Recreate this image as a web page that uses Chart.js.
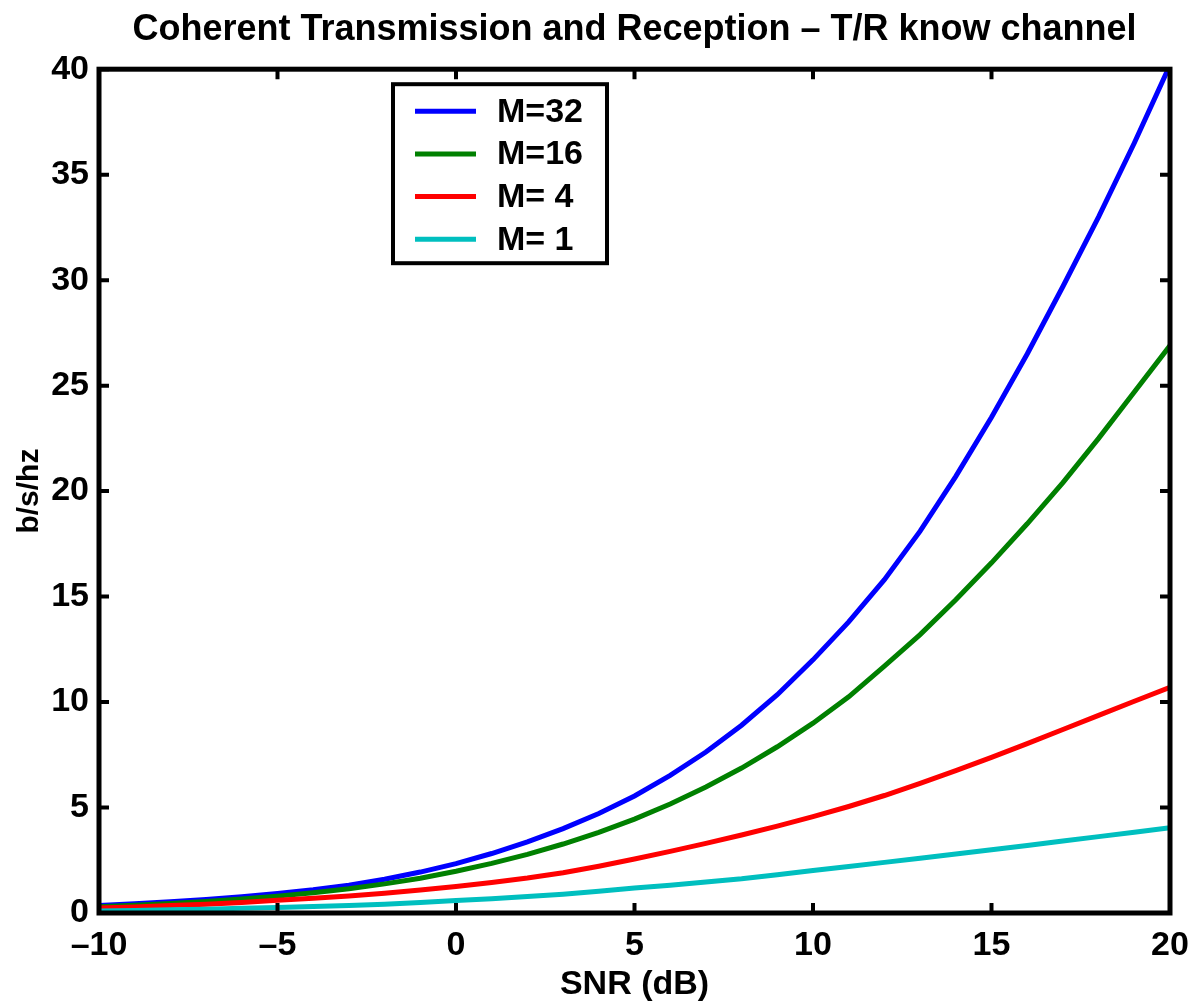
<!DOCTYPE html>
<html>
<head>
<meta charset="utf-8">
<script src="https://cdn.jsdelivr.net/npm/chart.js@4.4.1/dist/chart.umd.min.js"></script>
<style>
  html, body { margin: 0; padding: 0; background: #fff; }
  #wrap { width: 1195px; height: 1002px; position: relative; }
</style>
</head>
<body>
<div id="wrap"><canvas id="capacityChart"></canvas></div>
<script>
// SNR grid in dB
const snrDb = [-10, -9, -8, -7, -6, -5, -4, -3, -2, -1, 0, 1, 2, 3, 4, 5, 6, 7, 8, 9, 10, 11, 12, 13, 14, 15, 16, 17, 18, 19, 20];

// capacity curves (b/s/hz)
const capM32 = [0.36, 0.44, 0.53, 0.64, 0.77, 0.93, 1.10, 1.32, 1.60, 1.94, 2.34, 2.82, 3.37, 4.00, 4.72, 5.55, 6.52, 7.63, 8.90, 10.35, 12.0, 13.8, 15.8, 18.1, 20.7, 23.5, 26.5, 29.7, 33.0, 36.5, 40.2];
const capM16 = [0.30, 0.37, 0.45, 0.55, 0.66, 0.80, 0.96, 1.15, 1.38, 1.65, 1.98, 2.35, 2.78, 3.27, 3.82, 4.45, 5.17, 5.97, 6.87, 7.88, 9.0, 10.25, 11.7, 13.2, 14.85, 16.6, 18.45, 20.4, 22.5, 24.7, 26.9];
const capM4 = [0.24, 0.29, 0.35, 0.42, 0.50, 0.60, 0.70, 0.81, 0.94, 1.09, 1.26, 1.45, 1.66, 1.91, 2.22, 2.56, 2.92, 3.30, 3.70, 4.12, 4.57, 5.05, 5.57, 6.15, 6.75, 7.38, 8.03, 8.70, 9.37, 10.04, 10.7];
const capM1 = [0.10, 0.12, 0.15, 0.18, 0.22, 0.26, 0.31, 0.36, 0.42, 0.50, 0.59, 0.68, 0.78, 0.89, 1.03, 1.18, 1.32, 1.47, 1.62, 1.81, 2.01, 2.20, 2.40, 2.60, 2.80, 3.00, 3.20, 3.41, 3.62, 3.83, 4.04];

const seriesLabels = ["M=32", "M=16", "M= 4", "M= 1"];
const seriesColors = ["#0000ff", "#008000", "#ff0000", "#00bfbf"];
const xTicks = [-10, -5, 0, 5, 10, 15, 20];
const yTicks = [0, 5, 10, 15, 20, 25, 30, 35, 40];

const FONT = "'Liberation Sans', Arial, Helvetica, sans-serif";

function toPoints(ys) {
    return snrDb.map((x, i) => ({ x: x, y: ys[i] }));
}

// MATLAB style box + inward ticks + boxed legend
const matlabFrame = {
    id: "matlabFrame",
    afterDatasetsDraw(chart) {
        const { ctx, chartArea: a, scales } = chart;
        ctx.save();
        ctx.strokeStyle = "#000";
        ctx.lineCap = "butt";

        // inward ticks
        ctx.lineWidth = 4;
        const tl = 10;
        xTicks.forEach(v => {
            const px = scales.x.getPixelForValue(v);
            ctx.beginPath();
            ctx.moveTo(px, a.bottom); ctx.lineTo(px, a.bottom - tl);
            ctx.moveTo(px, a.top); ctx.lineTo(px, a.top + tl);
            ctx.stroke();
        });
        yTicks.forEach(v => {
            const py = scales.y.getPixelForValue(v);
            ctx.beginPath();
            ctx.moveTo(a.left, py); ctx.lineTo(a.left + tl, py);
            ctx.moveTo(a.right, py); ctx.lineTo(a.right - tl, py);
            ctx.stroke();
        });

        // axes box
        ctx.lineWidth = 5;
        ctx.strokeRect(a.left, a.top, a.right - a.left, a.bottom - a.top);

        // legend box
        const lx = a.left + 294, ly = a.top + 15, lw = 214, lh = 179;
        ctx.fillStyle = "#fff";
        ctx.fillRect(lx, ly, lw, lh);
        ctx.lineWidth = 4;
        ctx.strokeRect(lx, ly, lw, lh);
        ctx.font = "bold 34px " + FONT;
        ctx.textAlign = "left";
        ctx.textBaseline = "middle";
        chart.data.datasets.forEach((ds, i) => {
            const ry = ly + 27 + i * 42.7;
            ctx.strokeStyle = ds.borderColor;
            ctx.lineWidth = 5;
            ctx.beginPath();
            ctx.moveTo(lx + 22, ry); ctx.lineTo(lx + 83, ry);
            ctx.stroke();
            ctx.fillStyle = "#000";
            ctx.fillText(ds.label, lx + 104, ry + 1);
        });
        ctx.restore();
    }
};

document.addEventListener("DOMContentLoaded", () => {
    const caps = [capM32, capM16, capM4, capM1];
    const ctx = document.getElementById("capacityChart").getContext("2d");
    new Chart(ctx, {
        type: "line",
        data: {
            datasets: caps.map((c, i) => ({
                label: seriesLabels[i],
                data: toPoints(c),
                borderColor: seriesColors[i],
                backgroundColor: seriesColors[i],
                borderWidth: 5,
                pointRadius: 0,
                tension: 0,
                fill: false,
                order: 4 - i
            }))
        },
        options: {
            responsive: true,
            maintainAspectRatio: false,
            animation: false,
            layout: { padding: { left: 0, right: 25, top: 0, bottom: 0 } },
            plugins: {
                legend: { display: false },
                tooltip: { enabled: false },
                title: {
                    display: true,
                    fullSize: false,
                    text: "Coherent Transmission and Reception \u2013 T/R know channel",
                    color: "#000",
                    font: { family: FONT, size: 36, weight: "bold", lineHeight: 1.2 },
                    padding: { top: 8, bottom: 18 }
                }
            },
            scales: {
                x: {
                    type: "linear",
                    min: -10, max: 20,
                    afterBuildTicks: s => { s.ticks = xTicks.map(v => ({ value: v })); },
                    afterFit: s => { s.height = 89; s.paddingLeft = 0; s.paddingRight = 0; },
                    grid: { display: false, drawTicks: false },
                    border: { display: false },
                    ticks: {
                        color: "#000",
                        padding: 12,
                        font: { family: FONT, size: 34, weight: "bold" },
                        callback: v => String(v).replace("-", "\u2013")
                    },
                    title: {
                        display: true,
                        text: "SNR (dB)",
                        color: "#000",
                        font: { family: FONT, size: 34, weight: "bold", lineHeight: 1.0 },
                        padding: 0
                    }
                },
                y: {
                    type: "linear",
                    min: 0, max: 40,
                    afterBuildTicks: s => { s.ticks = yTicks.map(v => ({ value: v })); },
                    afterFit: s => { s.width = 99; s.paddingTop = 0; s.paddingBottom = 0; },
                    grid: { display: false, drawTicks: false },
                    border: { display: false },
                    ticks: {
                        color: "#000",
                        padding: 10,
                        font: { family: FONT, size: 34, weight: "bold" }
                    },
                    title: {
                        display: true,
                        text: "b/s/hz",
                        color: "#000",
                        font: { family: FONT, size: 30, weight: "bold", lineHeight: 1.0 },
                        padding: { top: 15, bottom: 0 }
                    }
                }
            }
        },
        plugins: [matlabFrame]
    });
});
</script>
</body>
</html>
